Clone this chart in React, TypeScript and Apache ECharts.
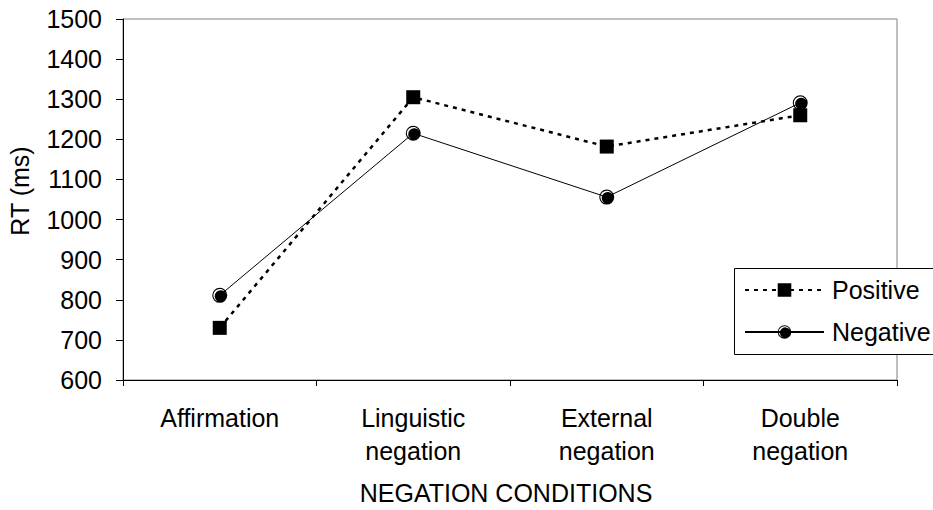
import React, { useEffect, useRef } from "react";
import * as echarts from "echarts";

const categories = [
  "Affirmation",
  "Linguistic\nnegation",
  "External\nnegation",
  "Double\nnegation",
];
const positiveRT = [730, 1305, 1182, 1260];
const negativeRT = [811, 1215, 1056, 1291];
const yTicks = { min: 600, max: 1500, step: 100 };

const FONT = "Liberation Sans, Arial, sans-serif";
const FS = 25;

// Black disc with a white crescent highlight at its upper-left edge
const SHADED_DOT =
  "path://M0,10A10,10,0,1,1,20,10A10,10,0,1,1,0,10Z" +
  "M17.863,6.775A8.5,8.5,0,1,0,6.775,17.863A8,8,0,1,1,17.863,6.775Z";

export default function App() {
  const ref = useRef<HTMLDivElement>(null);

  useEffect(() => {
    if (!ref.current) return;
    const chart = echarts.init(ref.current, null, { renderer: "svg" });
    chart.setOption({
      animation: false,
      backgroundColor: "#ffffff",
      textStyle: { fontFamily: FONT, color: "#000" },
      grid: {
        left: 123,
        right: 36,
        top: 19,
        bottom: 130,
        show: true,
        borderColor: "#808080",
        borderWidth: 1,
        backgroundColor: "transparent",
      },
      xAxis: {
        type: "category",
        data: categories,
        boundaryGap: true,
        axisLine: { show: true, lineStyle: { color: "#000", width: 1 } },
        axisTick: { show: true, length: 6, lineStyle: { color: "#000" } },
        axisLabel: {
          margin: 21,
          color: "#000",
          fontFamily: FONT,
          fontSize: FS,
          lineHeight: 33,
          interval: 0,
        },
        splitLine: { show: false },
      },
      yAxis: {
        type: "value",
        min: yTicks.min,
        max: yTicks.max,
        interval: yTicks.step,
        axisLine: { show: true, lineStyle: { color: "#000", width: 1 } },
        axisTick: { show: true, length: 7, lineStyle: { color: "#000" } },
        axisLabel: {
          margin: 21,
          color: "#000",
          fontFamily: FONT,
          fontSize: FS,
          formatter: (v: number) => String(v),
        },
        splitLine: { show: false },
      },
      legend: {
        orient: "vertical",
        left: 744,
        top: 277,
        padding: 0,
        itemWidth: 79,
        itemHeight: 17,
        itemGap: 16,
        textStyle: {
          fontFamily: FONT,
          fontSize: FS,
          color: "#000",
          lineHeight: 26,
          padding: [0, 0, 0, 3],
        },
        data: ["Positive", "Negative"],
      },
      graphic: [
        {
          type: "rect",
          z: 3,
          shape: { x: 734.5, y: 268.5, width: 260, height: 86 },
          style: { fill: "#ffffff", stroke: "#000", lineWidth: 1 },
        },
        {
          type: "text",
          x: 19.5,
          y: 191,
          rotation: Math.PI / 2,
          style: {
            text: "RT (ms)",
            fontFamily: FONT,
            fontSize: FS,
            fill: "#000",
            align: "center",
            verticalAlign: "middle",
          },
        },
        {
          type: "text",
          x: 506,
          y: 493,
          style: {
            text: "NEGATION CONDITIONS",
            fontFamily: FONT,
            fontSize: FS,
            fill: "#000",
            align: "center",
            verticalAlign: "middle",
          },
        },
      ],
      series: [
        {
          name: "Positive",
          type: "line",
          data: positiveRT,
          symbol: "rect",
          symbolSize: 14,
          itemStyle: { color: "#000" },
          lineStyle: { color: "#000", width: 2.5, type: [4, 5] },
          z: 2,
        },
        {
          name: "Negative",
          type: "line",
          data: negativeRT,
          symbol: SHADED_DOT,
          symbolSize: 15,
          itemStyle: { color: "#000" },
          lineStyle: { color: "#000", width: 1, type: "solid" },
          z: 2,
        },
      ],
    });
    return () => chart.dispose();
  }, []);

  return (
    <div
      ref={ref}
      style={{ position: "fixed", left: 0, top: 0, width: 933, height: 510 }}
    />
  );
}
